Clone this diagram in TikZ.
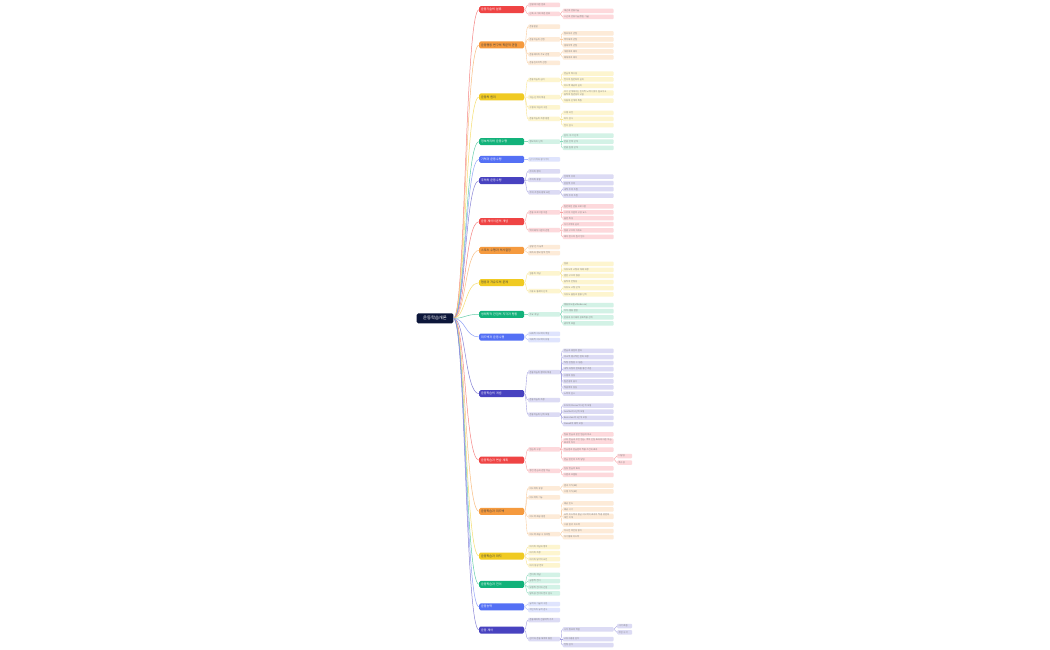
\documentclass[tikz,border=0pt]{standalone}
\usepackage{fontspec}
\setmainfont{Noto Sans CJK KR}
\usepackage{xcolor}
\definecolor{rootnavy}{RGB}{12, 22, 58}
\definecolor{cred}{RGB}{239, 68, 68}
\definecolor{lred}{RGB}{253, 217, 220}
\definecolor{corange}{RGB}{245, 154, 62}
\definecolor{lorange}{RGB}{253, 235, 216}
\definecolor{cyellow}{RGB}{240, 202, 34}
\definecolor{lyellow}{RGB}{253, 245, 207}
\definecolor{cgreen}{RGB}{18, 178, 122}
\definecolor{lgreen}{RGB}{211, 242, 230}
\definecolor{cblue}{RGB}{84, 112, 245}
\definecolor{lblue}{RGB}{223, 228, 253}
\definecolor{cindigo}{RGB}{72, 66, 192}
\definecolor{lindigo}{RGB}{220, 219, 244}
\usepackage{tikz}
\usetikzlibrary{positioning}

\tikzset{
  rootbox/.style={fill=rootnavy, text=white, rounded corners=1.5pt, minimum width=36.6pt,
    minimum height=10pt, inner sep=0pt, font=\fontsize{4.3}{5}\selectfont},
  branchbox/.style={fill=#1, text=white, rounded corners=1.5pt, anchor=west, text width=41pt,
    inner xsep=2pt, inner ysep=0pt, minimum height=7pt, align=left, font=\fontsize{3}{3.6}\selectfont},
  darkbranch/.style={branchbox=#1, text=black!75},
  subbox/.style={fill=#1, text=black!50, rounded corners=1pt, anchor=west, text width=29pt,
    inner xsep=1.5pt, inner ysep=0.4pt, minimum height=4.5pt, align=left, font=\fontsize{2.2}{2.6}\selectfont},
  leafbox/.style={subbox=#1, text width=48pt},
  tipbox/.style={subbox=#1, text width=12pt},
  rootlink/.style={draw=#1!65, line width=0.5pt},
  sublink/.style={draw=#1!50, line width=0.4pt},
}
\newcommand{\fanout}[3]{\foreach \k in {#3} {\draw[sublink=#1] (#2.east) .. controls +(2,0) and +(-2,0) .. (\k.west);}}

\begin{document}
\begin{tikzpicture}[x=1pt, y=-1pt]
    \fill[white] (0,0) rectangle (1050,650);
    \useasboundingbox (0,0) rectangle (1050,650);

    % Root
    \node[rootbox] (root) at (435,318.3) {운동학습개론};

    % Branch 1
    \node[branchbox=cred] (b1) at (479,9.7) {운동기술의 분류};
    \node[subbox=lred] (b1a) at (528,5) {환경에 따른 분류};
    \node[subbox=lred] (b1b) at (528,14) {근육 크기에 따른 분류};
    \node[leafbox=lred] (b1b1) at (562.5,11) {대근육 운동기술};
    \node[leafbox=lred] (b1b2) at (562.5,16.8) {소근육 운동기술(정밀 기술)};

    % Branch 2
    \node[darkbranch=corange] (b2) at (479,45) {운동행동 연구의 학문적 관점};
    \node[subbox=lorange] (b2a) at (528,26.7) {운동발달};
    \node[subbox=lorange] (b2b) at (528,39.3) {운동학습의 관점};
    \node[leafbox=lorange] (b2b1) at (562.5,33.3) {정보처리 관점};
    \node[leafbox=lorange] (b2b2) at (562.5,39.3) {역학체계 관점};
    \node[leafbox=lorange] (b2b3) at (562.5,45.3) {생태학적 관점};
    \node[subbox=lorange] (b2c) at (528,54.3) {운동제어의 주요 관점};
    \node[leafbox=lorange] (b2c1) at (562.5,51.5) {개방회로 제어};
    \node[leafbox=lorange] (b2c2) at (562.5,57.3) {폐쇄회로 제어};
    \node[subbox=lorange] (b2d) at (528,63) {운동심리학적 관점};

    % Branch 3
    \node[darkbranch=cyellow] (b3) at (479,97) {운동의 원리};
    \node[subbox=lyellow] (b3a) at (528,80) {운동학습의 원리};
    \node[leafbox=lyellow] (b3a1) at (562.5,73.7) {연습의 특수성};
    \node[leafbox=lyellow] (b3a2) at (562.5,79.5) {전이와 일반화의 원리};
    \node[leafbox=lyellow] (b3a3) at (562.5,85.8) {피드백 제공의 원리};
    \node[subbox=lyellow] (b3b) at (528,97.2) {학습 단계의 특성};
    \node[leafbox=lyellow] (b3b1) at (562.5,93) {초기 단계에서는 인지적 노력이 많이 필요하고 동작의 일관성이 낮음};
    \node[leafbox=lyellow] (b3b2) at (562.5,100.7) {자동화 단계의 특징};
    \node[subbox=lyellow] (b3c) at (528,107.3) {수행과 학습의 구분};
    \node[subbox=lyellow] (b3d) at (528,119) {운동학습의 측정 방법};
    \node[leafbox=lyellow] (b3d1) at (562.5,113) {수행 곡선};
    \node[leafbox=lyellow] (b3d2) at (562.5,119) {파지 검사};
    \node[leafbox=lyellow] (b3d3) at (562.5,125.2) {전이 검사};

    % Branch 4
    \node[branchbox=cgreen] (b4) at (479,141.7) {정보처리와 운동수행};
    \node[subbox=lgreen] (b4a) at (528,141.7) {정보처리 단계};
    \node[leafbox=lgreen] (b4a1) at (562.5,135.7) {감각·지각 단계};
    \node[leafbox=lgreen] (b4a2) at (562.5,141.7) {반응 선택 단계};
    \node[leafbox=lgreen] (b4a3) at (562.5,147.9) {반응 실행 단계};

    % Branch 5
    \node[branchbox=cblue] (b5) at (479,159.3) {기억과 운동수행};
    \node[subbox=lblue] (b5a) at (528,159.3) {단기기억과 장기기억};

    % Branch 6
    \node[branchbox=cindigo] (b6) at (479,180.7) {주의와 운동수행};
    \node[subbox=lindigo] (b6a) at (528,171.3) {주의의 정의};
    \node[subbox=lindigo] (b6b) at (528,180) {주의의 유형};
    \node[leafbox=lindigo] (b6b1) at (562.5,176.7) {선택적 주의};
    \node[leafbox=lindigo] (b6b2) at (562.5,183.2) {분할적 주의};
    \node[subbox=lindigo] (b6c) at (528,192.3) {주의 초점과 방해 요인};
    \node[leafbox=lindigo] (b6c1) at (562.5,189.2) {내적 주의 초점};
    \node[leafbox=lindigo] (b6c2) at (562.5,195.6) {외적 주의 초점};

    % Branch 7
    \node[branchbox=cred] (b7) at (479,221.7) {운동 제어이론의 개념};
    \node[subbox=lred] (b7a) at (528,212.3) {운동 프로그램 이론};
    \node[leafbox=lred] (b7a1) at (562.5,206.3) {일반화된 운동 프로그램};
    \node[leafbox=lred] (b7a2) at (562.5,212.3) {스키마 이론의 구성 요소};
    \node[leafbox=lred] (b7a3) at (562.5,218.2) {불변 특성};
    \node[subbox=lred] (b7b) at (528,230.2) {역학체계 이론의 관점};
    \node[leafbox=lred] (b7b1) at (562.5,224.2) {자기조직화 원리};
    \node[leafbox=lred] (b7b2) at (562.5,230.4) {협응 구조와 자유도};
    \node[leafbox=lred] (b7b3) at (562.5,236.8) {제어 변수와 질서 변수};

    % Branch 8
    \node[darkbranch=corange] (b8) at (479,250.3) {스포츠 수행과 의사결정};
    \node[subbox=lorange] (b8a) at (528,247) {상황 인식 능력};
    \node[subbox=lorange] (b8b) at (528,253) {예측과 정보 탐색 전략};

    % Branch 9
    \node[darkbranch=cyellow] (b9) at (479,282.7) {협응과 자유도의 문제};
    \node[subbox=lyellow] (b9a) at (528,273.3) {협응의 개념};
    \node[leafbox=lyellow] (b9a1) at (562.5,263.8) {협응};
    \node[leafbox=lyellow] (b9a2) at (562.5,269.8) {자유도의 고정과 해제 과정};
    \node[leafbox=lyellow] (b9a3) at (562.5,275.8) {결합 구조의 형성};
    \node[leafbox=lyellow] (b9a4) at (562.5,282) {동작의 안정성};
    \node[subbox=lyellow] (b9b) at (528,291.2) {자유도 통제의 단계};
    \node[leafbox=lyellow] (b9b1) at (562.5,288.1) {자유도 고정 단계};
    \node[leafbox=lyellow] (b9b2) at (562.5,294.3) {자유도 풀림과 활용 단계};

    % Branch 10
    \node[branchbox=cgreen] (b10) at (479,314.3) {생태학적 관점의 지각과 행동};
    \node[subbox=lgreen] (b10a) at (528,314.3) {주요 개념};
    \node[leafbox=lgreen] (b10a1) at (562.5,305.1) {행동유도성(affordance)};
    \node[leafbox=lgreen] (b10a2) at (562.5,311.1) {지각-행동 결합};
    \node[leafbox=lgreen] (b10a3) at (562.5,317.3) {환경과 유기체의 상호작용 관계};
    \node[leafbox=lgreen] (b10a4) at (562.5,323.3) {광학적 흐름};

    % Branch 11
    \node[branchbox=cblue] (b11) at (479,337) {피드백과 운동수행};
    \node[subbox=lblue] (b11a) at (528,333.8) {내재적 피드백의 역할};
    \node[subbox=lblue] (b11b) at (528,340) {외재적 피드백의 유형};

    % Branch 12
    \node[branchbox=cindigo] (b12) at (479,393.7) {운동학습의 개념};
    \node[subbox=lindigo] (b12a) at (528,372.2) {운동학습의 정의와 특성};
    \node[leafbox=lindigo] (b12a1) at (562.5,350.8) {연습과 경험의 결과};
    \node[leafbox=lindigo] (b12a2) at (562.5,357) {비교적 영구적인 변화 과정};
    \node[leafbox=lindigo] (b12a3) at (562.5,363) {직접 관찰할 수 없음};
    \node[leafbox=lindigo] (b12a4) at (562.5,369.1) {내적 과정의 변화를 통한 추론};
    \node[leafbox=lindigo] (b12a5) at (562.5,375.3) {수행의 향상};
    \node[leafbox=lindigo] (b12a6) at (562.5,381.3) {일관성의 증가};
    \node[leafbox=lindigo] (b12a7) at (562.5,387.4) {적응력의 향상};
    \node[leafbox=lindigo] (b12a8) at (562.5,393.6) {노력의 감소};
    \node[subbox=lindigo] (b12b) at (528,400) {운동학습의 측정};
    \node[subbox=lindigo] (b12c) at (528,414.5) {운동학습의 단계 모형};
    \node[leafbox=lindigo] (b12c1) at (562.5,405.6) {Fitts와 Posner의 3단계 모형};
    \node[leafbox=lindigo] (b12c2) at (562.5,411.7) {Gentile의 2단계 모형};
    \node[leafbox=lindigo] (b12c3) at (562.5,417.8) {Bernstein의 3단계 모형};
    \node[leafbox=lindigo] (b12c4) at (562.5,424) {Newell의 제약 모형};

    % Branch 13
    \node[branchbox=cred] (b13) at (479,460.2) {운동학습과 연습 계획};
    \node[subbox=lred] (b13a) at (528,449.3) {연습의 구성};
    \node[leafbox=lred] (b13a1) at (562.5,434.4) {집중 연습과 분산 연습의 비교};
    \node[leafbox=lred] (b13a2) at (562.5,441.2) {구획 연습과 무선 연습: 맥락 간섭 효과에 따른 학습 효과의 차이};
    \node[leafbox=lred] (b13a3) at (562.5,449.7) {전습법과 분습법의 적용 조건과 효과};
    \node[leafbox=lred] (b13a4) at (562.5,459.3) {연습 변인의 조작 방법};
    \node[tipbox=lred] (b13a4a) at (617,456) {다양성};
    \node[tipbox=lred] (b13a4b) at (617,462.6) {특수성};
    \node[subbox=lred] (b13b) at (528,470.8) {정신 연습과 관찰 학습};
    \node[leafbox=lred] (b13b1) at (562.5,468.3) {심상 연습의 효과};
    \node[leafbox=lred] (b13b2) at (562.5,474.8) {시범과 모델링};

    % Branch 14
    \node[darkbranch=corange] (b14) at (479,511.3) {운동학습과 피드백};
    \node[subbox=lorange] (b14a) at (528,488.4) {피드백의 유형};
    \node[leafbox=lorange] (b14a1) at (562.5,485.7) {결과 지식(KR)};
    \node[leafbox=lorange] (b14a2) at (562.5,491.4) {수행 지식(KP)};
    \node[subbox=lorange] (b14b) at (528,497.3) {피드백의 기능};
    \node[subbox=lorange] (b14c) at (528,516.7) {피드백 제공 방법};
    \node[leafbox=lorange] (b14c1) at (562.5,503.3) {제공 빈도};
    \node[leafbox=lorange] (b14c2) at (562.5,509.3) {제공 시기};
    \node[leafbox=lorange] (b14c3) at (562.5,516.4) {요약 피드백과 평균 피드백의 효과와 적용 방법에 대한 이해};
    \node[leafbox=lorange] (b14c4) at (562.5,524.7) {수용 범위 피드백};
    \node[subbox=lorange] (b14d) at (528,534.2) {피드백 제공 시 유의점};
    \node[leafbox=lorange] (b14d1) at (562.5,531) {지나친 의존성 방지};
    \node[leafbox=lorange] (b14d2) at (562.5,537.1) {자기통제 피드백};

    % Branch 15
    \node[darkbranch=cyellow] (b15) at (479,556) {운동학습과 파지};
    \node[subbox=lyellow] (b15a) at (528,547) {파지의 개념과 정의};
    \node[subbox=lyellow] (b15b) at (528,553) {파지의 측정};
    \node[subbox=lyellow] (b15c) at (528,559.2) {파지와 망각의 요인};
    \node[subbox=lyellow] (b15d) at (528,565.3) {파지 향상 전략};

    % Branch 16
    \node[branchbox=cgreen] (b16) at (479,584.3) {운동학습과 전이};
    \node[subbox=lgreen] (b16a) at (528,574.8) {전이의 개념};
    \node[subbox=lgreen] (b16b) at (528,581) {긍정적 전이};
    \node[subbox=lgreen] (b16c) at (528,587.2) {부정적 전이와 간섭};
    \node[subbox=lgreen] (b16d) at (528,593.3) {양측성 전이와 전이 검사};

    % Branch 17
    \node[branchbox=cblue] (b17) at (479,606.8) {운동능력};
    \node[subbox=lblue] (b17a) at (528,604) {능력과 기술의 구분};
    \node[subbox=lblue] (b17b) at (528,610) {개인차와 능력 검사};

    % Branch 18
    \node[branchbox=cindigo] (b18) at (479,630) {운동 제어};
    \node[subbox=lindigo] (b18a) at (528,620) {운동제어의 신경학적 기초};
    \node[subbox=lindigo] (b18b) at (528,639) {감각과 운동 체계의 통합};
    \node[leafbox=lindigo] (b18b1) at (562.5,629.3) {시각 정보의 역할};
    \node[tipbox=lindigo] (b18b1a) at (617,626) {시각 흐름};
    \node[tipbox=lindigo] (b18b1b) at (617,632.4) {주변 시각};
    \node[leafbox=lindigo] (b18b2) at (562.5,639) {고유수용성 감각};
    \node[leafbox=lindigo] (b18b3) at (562.5,645) {전정 감각};

    % Root to branches
    \foreach \b/\c in {b1/cred, b2/corange, b3/cyellow, b4/cgreen, b5/cblue, b6/cindigo,
        b7/cred, b8/corange, b9/cyellow, b10/cgreen, b11/cblue, b12/cindigo,
        b13/cred, b14/corange, b15/cyellow, b16/cgreen, b17/cblue, b18/cindigo} {
        \draw[rootlink=\c] (root.east) .. controls +(12,0) and +(-14,0) .. (\b.west);
    }

    % Branches to sub topics
    \fanout{cred}{b1}{b1a,b1b}
    \fanout{cred}{b1b}{b1b1,b1b2}
    \fanout{corange}{b2}{b2a,b2b,b2c,b2d}
    \fanout{corange}{b2b}{b2b1,b2b2,b2b3}
    \fanout{corange}{b2c}{b2c1,b2c2}
    \fanout{cyellow}{b3}{b3a,b3b,b3c,b3d}
    \fanout{cyellow}{b3a}{b3a1,b3a2,b3a3}
    \fanout{cyellow}{b3b}{b3b1,b3b2}
    \fanout{cyellow}{b3d}{b3d1,b3d2,b3d3}
    \fanout{cgreen}{b4}{b4a}
    \fanout{cgreen}{b4a}{b4a1,b4a2,b4a3}
    \fanout{cblue}{b5}{b5a}
    \fanout{cindigo}{b6}{b6a,b6b,b6c}
    \fanout{cindigo}{b6b}{b6b1,b6b2}
    \fanout{cindigo}{b6c}{b6c1,b6c2}
    \fanout{cred}{b7}{b7a,b7b}
    \fanout{cred}{b7a}{b7a1,b7a2,b7a3}
    \fanout{cred}{b7b}{b7b1,b7b2,b7b3}
    \fanout{corange}{b8}{b8a,b8b}
    \fanout{cyellow}{b9}{b9a,b9b}
    \fanout{cyellow}{b9a}{b9a1,b9a2,b9a3,b9a4}
    \fanout{cyellow}{b9b}{b9b1,b9b2}
    \fanout{cgreen}{b10}{b10a}
    \fanout{cgreen}{b10a}{b10a1,b10a2,b10a3,b10a4}
    \fanout{cblue}{b11}{b11a,b11b}
    \fanout{cindigo}{b12}{b12a,b12b,b12c}
    \fanout{cindigo}{b12a}{b12a1,b12a2,b12a3,b12a4,b12a5,b12a6,b12a7,b12a8}
    \fanout{cindigo}{b12c}{b12c1,b12c2,b12c3,b12c4}
    \fanout{cred}{b13}{b13a,b13b}
    \fanout{cred}{b13a}{b13a1,b13a2,b13a3,b13a4}
    \fanout{cred}{b13a4}{b13a4a,b13a4b}
    \fanout{cred}{b13b}{b13b1,b13b2}
    \fanout{corange}{b14}{b14a,b14b,b14c,b14d}
    \fanout{corange}{b14a}{b14a1,b14a2}
    \fanout{corange}{b14c}{b14c1,b14c2,b14c3,b14c4}
    \fanout{corange}{b14d}{b14d1,b14d2}
    \fanout{cyellow}{b15}{b15a,b15b,b15c,b15d}
    \fanout{cgreen}{b16}{b16a,b16b,b16c,b16d}
    \fanout{cblue}{b17}{b17a,b17b}
    \fanout{cindigo}{b18}{b18a,b18b}
    \fanout{cindigo}{b18b}{b18b1,b18b2,b18b3}
    \fanout{cindigo}{b18b1}{b18b1a,b18b1b}

\end{tikzpicture}
\end{document}
